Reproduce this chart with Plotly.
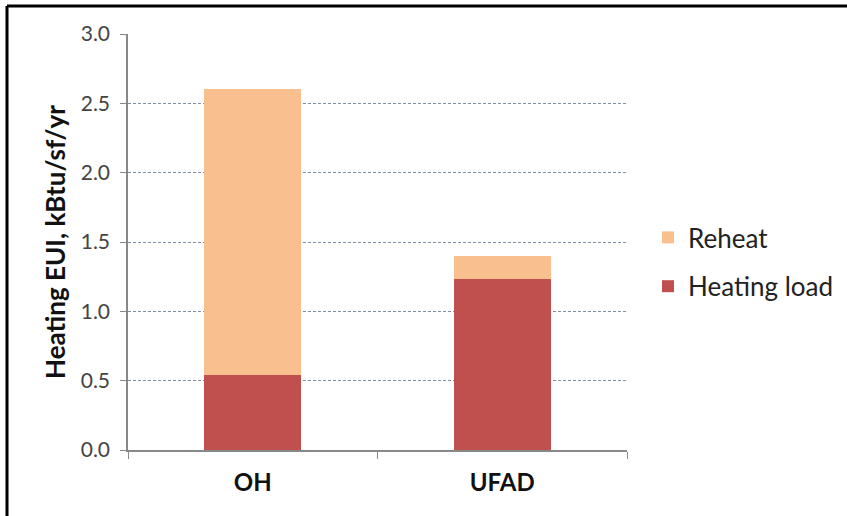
import plotly.graph_objects as go

categories = ["OH", "UFAD"]
heating_load = [0.54, 1.23]
reheat = [2.06, 0.17]
y_ticks = [0.0, 0.5, 1.0, 1.5, 2.0, 2.5, 3.0]

L, R, T, B = 128, 220, 34, 66
W, H = 847, 516
pw, ph = W - L - R, H - T - B

fig = go.Figure()
fig.add_trace(go.Bar(x=categories, y=heating_load, name="Heating load", legendgroup="b", legendrank=2,
                     marker=dict(color="#C0504D", line=dict(width=0)), width=0.39))
fig.add_trace(go.Bar(x=categories, y=reheat, name="Reheat", legendgroup="a", legendrank=1,
                     marker=dict(color="#F9BF8F", line=dict(width=0)), width=0.39))

def px(x):
    return (x - L) / pw

def py(y):
    return (H - B - y) / ph

fig.update_layout(
    width=W, height=H,
    margin=dict(l=L, r=R, t=T, b=B, autoexpand=False),
    barmode="stack",
    paper_bgcolor="white", plot_bgcolor="white",
    font=dict(family="Lato, 'Open Sans', sans-serif", color="#222"),
    legend=dict(traceorder="grouped", x=px(648), y=py(262), xanchor="left", yanchor="middle",
                font=dict(size=26, color="#222"), itemwidth=30, tracegroupgap=12,
                bgcolor="rgba(0,0,0,0)"),
    xaxis=dict(
        type="category", tickson="boundaries", ticks="outside", ticklen=7,
        tickcolor="#888", showline=True, linecolor="#888", linewidth=1.5,
        tickfont=dict(size=24, color="#111", family="Lato, sans-serif", weight="bold"),
        ticklabelstandoff=10,
        showgrid=False, range=[-0.5, 1.5],
    ),
    yaxis=dict(
        range=[0, 3.0], tickvals=y_ticks, ticktext=[f"{v:.1f}" for v in y_ticks],
        ticks="outside", ticklen=6, tickcolor="#888",
        showline=True, linecolor="#888", linewidth=1.5,
        showgrid=True, gridcolor="#7f8fa6", griddash="3px,2px", gridwidth=1,
        tickfont=dict(size=21, color="#444"),
        ticklabelstandoff=6,
        zeroline=False,
        title=dict(text="<b>Heating EUI, kBtu/sf/yr</b>", font=dict(size=26, color="#111"), standoff=8),
    ),
    shapes=[
        dict(type="line", xref="paper", yref="paper", x0=px(7), x1=px(847), y0=py(6), y1=py(6),
             line=dict(color="black", width=3)),
        dict(type="line", xref="paper", yref="paper", x0=px(7), x1=px(7), y0=py(6), y1=py(516),
             line=dict(color="black", width=3)),
    ],
)

fig.write_html("out.html", config={"displayModeBar": False},
               post_script="document.body.style.margin='0';")
